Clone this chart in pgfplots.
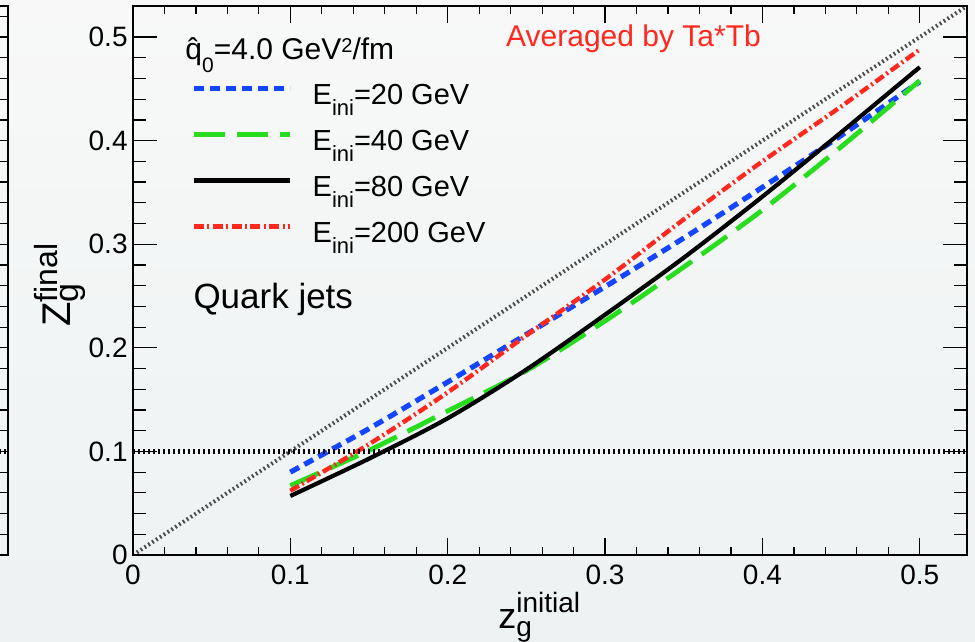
\documentclass[border=0pt]{standalone}
\usepackage{fontspec}
\setmainfont{Liberation Sans}
\usepackage{pgfplots}
\usepackage{pgfplotstable}
\pgfplotsset{compat=1.18}

\definecolor{rblue}{RGB}{20,70,255}
\definecolor{rgreen}{RGB}{40,220,30}
\definecolor{rred}{RGB}{255,40,30}
\definecolor{bgtop}{RGB}{248,248,248}
\definecolor{bgbot}{RGB}{236,242,242}
\newcommand{\fs}[1]{\fontsize{#1}{#1}\selectfont}

% z_g^final vs z_g^initial, quark jets, qhat0 = 4 GeV^2/fm
\pgfplotstableread{
x    e20   e40   e80   e200
0.10 0.080 0.067 0.057 0.062
0.15 0.122 0.101 0.093 0.107
0.20 0.167 0.139 0.132 0.157
0.25 0.213 0.178 0.179 0.212
0.30 0.259 0.226 0.232 0.266
0.35 0.306 0.278 0.287 0.324
0.40 0.355 0.333 0.346 0.380
0.45 0.405 0.394 0.408 0.433
0.50 0.457 0.458 0.471 0.488
}\zgdata

\pgfplotsset{
  frame/.style={scale only axis, width=417pt, height=274.5pt,
    ymin=0, ymax=0.53, tick align=inside,
    axis line style={line width=0.6pt},
    every tick/.style={black, line width=0.6pt},
    tick label style={font=\fs{14}}},
}

\begin{document}
\begin{tikzpicture}
\useasboundingbox (0,0) rectangle (487.5pt,321pt);
\shade[top color=bgtop, bottom color=bgbot] (0,0) rectangle (487.5pt,321pt);

% edge of the neighbouring panel
\begin{axis}[frame, at={(4pt,43.5pt)}, anchor=south east,
  xmin=0, xmax=1, xtick=\empty,
  ytick={0,0.02,...,0.53}, yticklabels={}, ytick pos=right,
  major tick length=5pt]
\addplot[black, line width=2.2pt, dash pattern=on 1pt off 1.5pt] coordinates {(0,0.1) (1,0.1)};
\end{axis}

% main panel: curves, x ticks, legend
\begin{axis}[frame, at={(66.5pt,43.5pt)}, anchor=south west,
  xmin=0, xmax=0.53,
  xtick={0,0.1,0.2,0.3,0.4,0.5}, xticklabels={0,0.1,0.2,0.3,0.4,0.5},
  minor x tick num=4, ytick=\empty,
  major tick length=8.5pt, minor tick length=4pt,
  xticklabel style={inner sep=0pt, yshift=-5pt},
  xlabel={\fs{18}z\rlap{\raisebox{-4.3pt}{\fs{14}g}}\raisebox{8pt}{\fs{14}initial}},
  xlabel style={at={(rel axis cs:0.4376,-0.133)}, anchor=base west, inner sep=0pt},
  ylabel={\fs{20}Z\rlap{\raisebox{-4pt}{\fs{17}g}}\raisebox{6.5pt}{\fs{16}final}},
  ylabel style={at={(rel axis cs:-0.0755,0.4153)}, anchor=base west, inner sep=0pt},
  legend style={at={(axis cs:0.0369,0.4566)}, anchor=north west, draw=none, fill=none,
    font=\fs{14.5}, row sep=6.5pt, inner sep=0pt,
    nodes={inner sep=0pt, text height=11pt, text depth=5.5pt}},
  legend cell align=left,
  legend image code/.code={\draw[#1] (0pt,5.2pt) -- (48pt,5.2pt); \path (58pt,5.2pt);},
]
\addplot[rblue, line width=2.6pt, dash pattern=on 5pt off 3pt, smooth] table[x=x, y=e20] {\zgdata};
\addlegendentry{E\raisebox{-5.5pt}{\fs{11}ini}=20 GeV}
\addplot[rgreen, line width=2.4pt, dash pattern=on 15.5pt off 6pt, smooth] table[x=x, y=e40] {\zgdata};
\addlegendentry{E\raisebox{-5.5pt}{\fs{11}ini}=40 GeV}
\addplot[black, line width=2.1pt, smooth] table[x=x, y=e80] {\zgdata};
\addlegendentry{E\raisebox{-5.5pt}{\fs{11}ini}=80 GeV}
\addplot[rred, line width=2.2pt, dash pattern=on 5pt off 1.7pt on 1pt off 1.7pt, smooth] table[x=x, y=e200] {\zgdata};
\addlegendentry{E\raisebox{-5.5pt}{\fs{11}ini}=200 GeV}
\addplot[black!70, line width=2pt, dash pattern=on 0.9pt off 1.4pt, forget plot] coordinates {(0,0) (0.53,0.53)};
\addplot[black, line width=2.2pt, dash pattern=on 1pt off 1.5pt, forget plot] coordinates {(0,0.1) (0.53,0.1)};

\node[anchor=base west, inner sep=0pt, font=\fs{15}] at (axis cs:0.0331,0.4788)
  {\^{q}\raisebox{-6.5pt}{\fs{10.5}0}=4.0 GeV\raisebox{3.5pt}{\fs{10}2}/fm};
\node[anchor=base west, inner sep=0pt, font=\fs{15}, text=rred] at (axis cs:0.2369,0.4913)
  {Averaged by Ta*Tb};
\node[anchor=base west, inner sep=0pt, font=\fs{17.5}] at (axis cs:0.0382,0.238)
  {Quark jets};
\end{axis}

% y ticks with their own lengths
\begin{axis}[frame, at={(66.5pt,43.5pt)}, anchor=south west,
  xmin=0, xmax=0.53, xtick=\empty,
  ytick={0,0.1,0.2,0.3,0.4,0.5}, yticklabels={0,0.1,0.2,0.3,0.4,0.5},
  minor y tick num=4,
  major tick length=12pt, minor tick length=6.5pt,
  yticklabel style={inner sep=0pt, xshift=-2.5pt}]
\end{axis}
\end{tikzpicture}
\end{document}
